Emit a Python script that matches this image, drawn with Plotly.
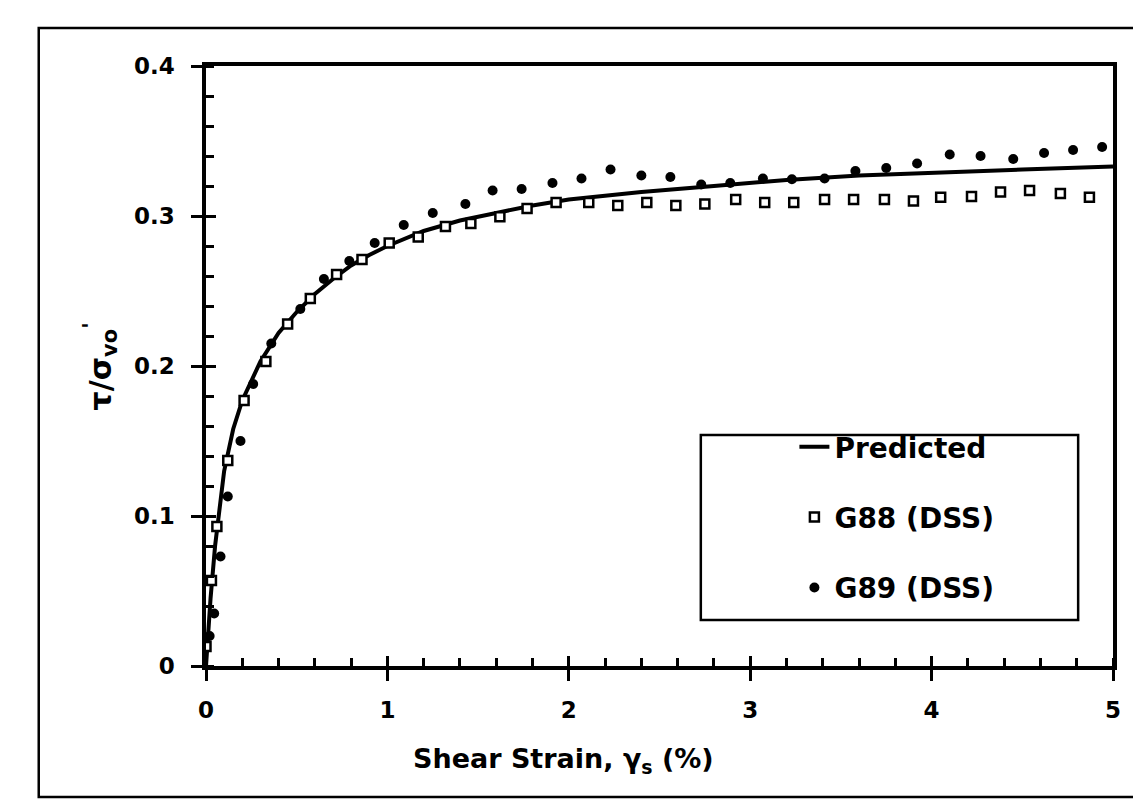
import plotly.graph_objects as go

# ---- data ----
pred_x = [0, 0.01, 0.025, 0.05, 0.1, 0.15, 0.2, 0.3, 0.4, 0.5, 0.6, 0.7, 0.8, 0.9, 1.0,
          1.2, 1.4, 1.6, 1.8, 2.0, 2.4, 2.8, 3.2, 3.6, 4.0, 4.5, 5.0]
pred_y = [0, 0.02, 0.045, 0.08, 0.13, 0.158, 0.177, 0.203, 0.222, 0.236, 0.248, 0.258, 0.267,
          0.274, 0.280, 0.290, 0.297, 0.302, 0.307, 0.311, 0.316, 0.320, 0.324, 0.327, 0.329,
          0.331, 0.333]

g88_x = [0.0, 0.03, 0.06, 0.12, 0.21, 0.33, 0.45, 0.575, 0.72, 0.86, 1.01, 1.17, 1.32, 1.46,
         1.62, 1.77, 1.93, 2.11, 2.27, 2.43, 2.59, 2.75, 2.92, 3.08, 3.24, 3.41, 3.57, 3.74,
         3.90, 4.05, 4.22, 4.38, 4.54, 4.71, 4.87]
g88_y = [0.013, 0.057, 0.093, 0.137, 0.177, 0.203, 0.228, 0.245, 0.261, 0.271, 0.282, 0.286,
         0.293, 0.295, 0.2995, 0.305, 0.309, 0.309, 0.307, 0.309, 0.307, 0.308, 0.311, 0.309,
         0.309, 0.311, 0.311, 0.311, 0.310, 0.3125, 0.313, 0.316, 0.317, 0.315, 0.3125]

g89_x = [0.02, 0.045, 0.08, 0.12, 0.19, 0.26, 0.36, 0.52, 0.65, 0.79, 0.93, 1.09, 1.25, 1.43,
         1.58, 1.74, 1.91, 2.07, 2.23, 2.40, 2.56, 2.73, 2.89, 3.07, 3.23, 3.41, 3.58, 3.75,
         3.92, 4.10, 4.27, 4.45, 4.62, 4.78, 4.94]
g89_y = [0.02, 0.035, 0.073, 0.113, 0.150, 0.188, 0.215, 0.238, 0.258, 0.270, 0.282, 0.294,
         0.302, 0.308, 0.317, 0.318, 0.322, 0.325, 0.331, 0.327, 0.326, 0.321, 0.322, 0.325,
         0.3245, 0.325, 0.330, 0.332, 0.335, 0.341, 0.340, 0.338, 0.342, 0.344, 0.346]

x_ticks = [0, 1, 2, 3, 4, 5]
y_ticks = [0, 0.1, 0.2, 0.3, 0.4]
x_ticktext = ["0", "1", "2", "3", "4", "5"]
y_ticktext = ["0", "0.1", "0.2", "0.3", "0.4"]

FONT = "DejaVu Sans"

fig = go.Figure()
fig.add_trace(go.Scatter(x=pred_x, y=pred_y, mode="lines", name="Predicted",
                         line=dict(color="black", width=4), legendrank=1,
                         legendgroup="a"))
fig.add_trace(go.Scatter(x=g89_x, y=g89_y, mode="markers", name="G89 (DSS)",
                         marker=dict(symbol="circle", size=10, color="black"),
                         legendrank=3, legendgroup="c"))
fig.add_trace(go.Scatter(x=g88_x, y=g88_y, mode="markers", name="G88 (DSS)",
                         marker=dict(symbol="square", size=9, color="white",
                                     line=dict(color="black", width=2.5)),
                         legendrank=2, legendgroup="b"))
# invisible trace to carry overlay axes (inside halves of major ticks)
fig.add_trace(go.Scatter(x=pred_x, y=pred_y, xaxis="x2", yaxis="y2", mode="lines",
                         line=dict(color="rgba(0,0,0,0)", width=1), showlegend=False,
                         hoverinfo="skip"))

L, R, T, B = 206, 16, 66, 137
W, H = 1133, 803
pw = W - L - R
ph = H - T - B


def px2x(px):
    return (px - L) / pw


def px2y(py):
    return (H - B - py) / ph


axis_common = dict(showgrid=False, zeroline=False, linecolor="black", linewidth=3.5,
                   mirror=True, ticks="outside", ticklen=11, tickwidth=3, tickcolor="black",
                   tickfont=dict(family=FONT, size=23, color="black", weight="bold"))

fig.update_layout(
    width=W, height=H,
    margin=dict(l=L, r=R, t=T, b=B),
    paper_bgcolor="white", plot_bgcolor="white",
    showlegend=True,
    xaxis=dict(range=[0, 5], tickvals=x_ticks, ticktext=x_ticktext,
               ticklabelstandoff=10,
               minor=dict(dtick=0.2, ticks="inside", ticklen=8, tickwidth=2.5,
                          tickcolor="black"),
               **axis_common),
    yaxis=dict(range=[0, 0.4], tickvals=y_ticks, ticktext=y_ticktext,
               ticklabelstandoff=12,
               minor=dict(dtick=0.02, ticks="inside", ticklen=8, tickwidth=2.5,
                          tickcolor="black"),
               **axis_common),
    xaxis2=dict(range=[0, 5], overlaying="x", anchor="y", showgrid=False, zeroline=False,
                showline=False, tickvals=x_ticks, ticks="inside", ticklen=10, tickwidth=3,
                tickcolor="black", showticklabels=False),
    yaxis2=dict(range=[0, 0.4], overlaying="y", anchor="x", showgrid=False, zeroline=False,
                showline=False, tickvals=y_ticks, ticks="inside", ticklen=10, tickwidth=3,
                tickcolor="black", showticklabels=False),
    legend=dict(x=px2x(797), y=px2y(422), xanchor="left", yanchor="top",
                bgcolor="rgba(0,0,0,0)", borderwidth=0, tracegroupgap=31,
                font=dict(family=FONT, size=28, color="black", weight="bold"),
                traceorder="grouped"),
    shapes=[
        dict(type="rect", xref="paper", yref="paper",
             x0=px2x(703), x1=px2x(1082), y0=px2y(620), y1=px2y(435),
             line=dict(color="black", width=2.5), fillcolor="white", layer="above"),
        dict(type="rect", xref="paper", yref="paper",
             x0=px2x(38), x1=px2x(1145), y0=px2y(797), y1=px2y(28),
             line=dict(color="black", width=2.5), fillcolor="rgba(0,0,0,0)", layer="below"),
    ],
    annotations=[
        dict(text="Shear Strain, γ<sub>s</sub> (%)", xref="paper", yref="paper",
             x=px2x(565), y=px2y(760), xanchor="center", yanchor="middle", showarrow=False,
             font=dict(family=FONT, size=27, color="black", weight="bold")),
        dict(text="τ/σ<sub>vo</sub><sup>'</sup>", xref="paper", yref="paper",
             x=px2x(100), y=px2y(366), xanchor="center", yanchor="middle", showarrow=False,
             textangle=-90,
             font=dict(family=FONT, size=30, color="black", weight="bold")),
    ],
)

fig.write_html("out.html")
